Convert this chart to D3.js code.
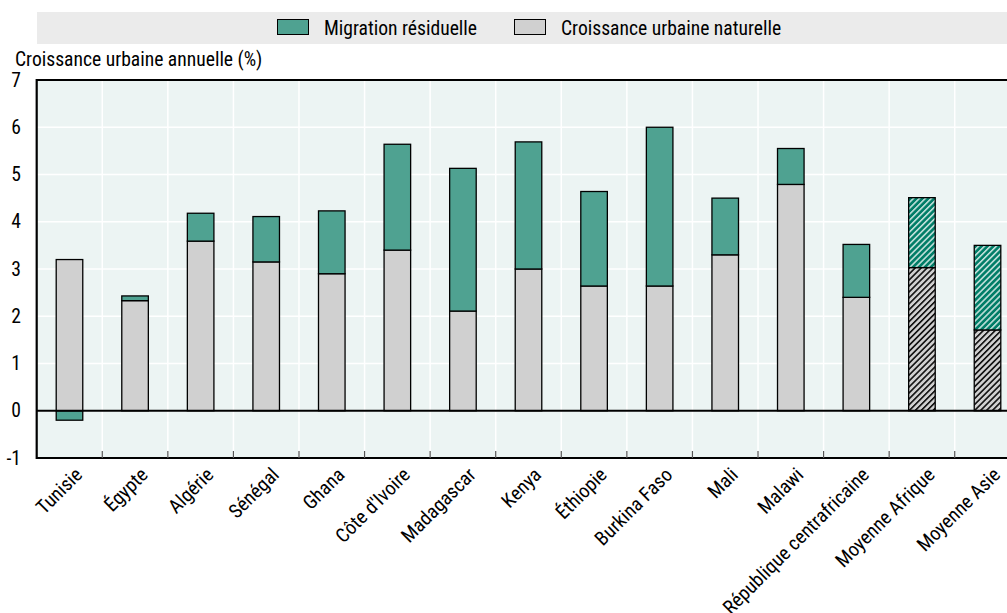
<!DOCTYPE html>
<html><head><meta charset="utf-8">
<script src="https://cdn.jsdelivr.net/npm/d3@7"></script>
<style>
body{margin:0;background:#fff;}
svg text{font-family:"Liberation Sans Narrow","Arial Narrow","Roboto Condensed",sans-serif;fill:#000;}
</style></head>
<body><svg id="c" width="1007" height="613"></svg>
<script>
const categories=["Tunisie","Égypte","Algérie","Sénégal","Ghana","Côte d'Ivoire","Madagascar","Kenya","Éthiopie","Burkina Faso","Mali","Malawi","République centrafricaine","Moyenne Afrique","Moyenne Asie"];
const naturalGrowth=[3.2,2.33,3.59,3.15,2.9,3.4,2.11,3.0,2.64,2.64,3.3,4.79,2.4,3.03,1.71];
const residualMigration=[-0.2,0.1,0.59,0.96,1.33,2.24,3.02,2.69,2.0,3.36,1.2,0.76,1.12,1.48,1.79];
const hatched=["Moyenne Afrique","Moyenne Asie"];
const yTicks=[-1,0,1,2,3,4,5,6,7];
const seriesNames=["Migration résiduelle","Croissance urbaine naturelle"];
const yTitle="Croissance urbaine annuelle (%)";

const FS=19.6;
const svg=d3.select("#c");
const pL=36.7,pR=1020.3,pT=80,pB=458;
const x=d3.scaleBand().domain(categories).range([pL,pR]).padding(0);
const y=d3.scaleLinear().domain([-1,7]).range([pB,pT]);
const teal="#4fa291",grey="#d0d0d0";

const defs=svg.append("defs");
const pg=defs.append("pattern").attr("id","hg").attr("width",4.2).attr("height",4.2).attr("patternUnits","userSpaceOnUse").attr("patternTransform","rotate(45)");
pg.append("rect").attr("width",4.2).attr("height",4.2).attr("fill",grey);
pg.append("line").attr("x1",0.8).attr("y1",0).attr("x2",0.8).attr("y2",4.2).attr("stroke","#000").attr("stroke-width",1.5);
const pt=defs.append("pattern").attr("id","ht").attr("width",4.2).attr("height",4.2).attr("patternUnits","userSpaceOnUse").attr("patternTransform","rotate(45)");
pt.append("rect").attr("width",4.2).attr("height",4.2).attr("fill","#007d67");
pt.append("line").attr("x1",0.8).attr("y1",0).attr("x2",0.8).attr("y2",4.2).attr("stroke","#fff").attr("stroke-width",1.2);

// legend
svg.append("rect").attr("x",37).attr("y",12).attr("width",970).attr("height",32).attr("fill","#ebebeb");
const leg=[{n:seriesNames[0],c:teal,x:277},{n:seriesNames[1],c:grey,x:514}];
leg.forEach(l=>{
  svg.append("rect").attr("x",l.x+0.5).attr("y",19.5).attr("width",31).attr("height",15).attr("fill",l.c).attr("stroke","#000").attr("stroke-width",1);
  svg.append("text").attr("x",l.x+47).attr("y",34.5).attr("font-size",FS).text(l.n);
});

// plot bg
svg.append("rect").attr("x",pL).attr("y",pT).attr("width",pR-pL).attr("height",pB-pT).attr("fill","#ecf4f3");
// grid
svg.append("g").selectAll("line").data(yTicks).join("line")
 .attr("x1",pL).attr("x2",pR).attr("y1",d=>y(d)).attr("y2",d=>y(d)).attr("stroke","#fff").attr("stroke-width",1.5);
svg.append("g").selectAll("line").data(categories.slice(1)).join("line")
 .attr("x1",d=>x(d)).attr("x2",d=>x(d)).attr("y1",pT).attr("y2",pB).attr("stroke","#fff").attr("stroke-width",1.5);

// bars
const bw=x.bandwidth()*0.405;
const data=categories.map((c,i)=>({c,n:naturalGrowth[i],m:residualMigration[i],h:hatched.includes(c)}));
const g=svg.append("g");
data.forEach(d=>{
  const bx=x(d.c)+(x.bandwidth()-bw)/2;
  g.append("rect").attr("x",bx).attr("width",bw).attr("y",y(d.n)).attr("height",y(0)-y(d.n))
   .attr("fill",d.h?"url(#hg)":grey).attr("stroke","#000").attr("stroke-width",1.3);
  const a=d.m>=0?d.n:0, b=d.m>=0?d.n+d.m:d.m;
  const ya=y(a), yb=y(b);
  g.append("rect").attr("x",bx).attr("width",bw).attr("y",Math.min(ya,yb)).attr("height",Math.abs(ya-yb))
   .attr("fill",d.h?"url(#ht)":teal).attr("stroke","#000").attr("stroke-width",1.3);
});

// zero line
svg.append("line").attr("x1",pL).attr("x2",pR).attr("y1",y(0)).attr("y2",y(0)).attr("stroke","#000").attr("stroke-width",2);
// frame lines
svg.append("line").attr("x1",pL).attr("x2",pR).attr("y1",pT).attr("y2",pT).attr("stroke","#000").attr("stroke-width",2);
svg.append("line").attr("x1",pL).attr("x2",pR).attr("y1",pB).attr("y2",pB).attr("stroke","#000").attr("stroke-width",2.2);
svg.append("line").attr("x1",pL).attr("x2",pL).attr("y1",pT-1).attr("y2",pB+1).attr("stroke","#000").attr("stroke-width",2.2);
// x ticks inside
svg.append("g").selectAll("line").data(categories.slice(1)).join("line")
 .attr("x1",d=>x(d)).attr("x2",d=>x(d)).attr("y1",pB-7).attr("y2",pB).attr("stroke","#555").attr("stroke-width",1.2);

// y labels
svg.append("g").selectAll("text").data(yTicks).join("text")
 .attr("x",21).attr("y",d=>y(d)+6.5).attr("text-anchor","end").attr("font-size",FS).text(d=>d);
svg.append("text").attr("x",15).attr("y",66).attr("font-size",FS).text(yTitle);

// x labels
svg.append("g").selectAll("text").data(categories).join("text")
 .attr("text-anchor","end").attr("font-size",FS)
 .attr("transform",d=>`translate(${x(d)+x.bandwidth()/2+14},${pB+18}) rotate(-45)`)
 .text(d=>d);
</script></body></html>
